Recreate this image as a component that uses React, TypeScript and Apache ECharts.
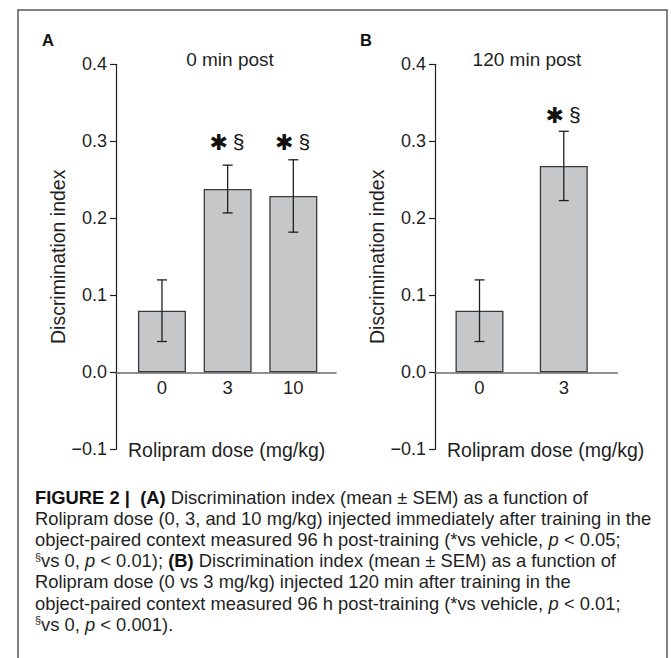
import React, { useEffect, useRef } from "react";
import * as echarts from "echarts";

// ---------- data ----------
const panelLabels = ["A", "B"];
const panelTitles = ["0 min post", "120 min post"];

const dosesA = ["0", "3", "10"];
const meansA = [0.08, 0.238, 0.229];
const semA = [0.04, 0.031, 0.047];
const sigA = ["", "✱§", "✱§"];
const sigLevelA = [0, 0.3, 0.3];

const dosesB = ["0", "3"];
const meansB = [0.08, 0.268];
const semB = [0.04, 0.045];
const sigB = ["", "✱§"];
const sigLevelB = [0, 0.335];

const yMin = -0.1;
const yMax = 0.4;
const yStep = 0.1;
const yAxisName = "Discrimination index";
const xAxisName = "Rolipram dose (mg/kg)";

const captionLines = [
  "{b|FIGURE 2 |}{n|  }{b|(A)}{n| Discrimination index (mean ± SEM) as a function of}",
  "{n|Rolipram dose (0, 3, and 10 mg/kg) injected immediately after training in the}",
  "{n|object-paired context measured 96 h post-training (*vs vehicle, }{i|p}{n| < 0.05;}",
  "{s|§}{n|vs 0, }{i|p}{n| < 0.01); }{b|(B)}{n| Discrimination index (mean ± SEM) as a function of}",
  "{n|Rolipram dose (0 vs 3 mg/kg) injected 120 min after training in the}",
  "{n|object-paired context measured 96 h post-training (*vs vehicle, }{i|p}{n| < 0.01;}",
  "{s|§}{n|vs 0, }{i|p}{n| < 0.001).}",
];
const captionRef = "Rolipram dose (0, 3, and 10 mg/kg) injected immediately after training in the";

// ---------- layout / styles ----------
const FONT = "'Liberation Sans', Arial, Helvetica, sans-serif";
const INK = "#1f1f1f";
const BAR_FILL = "#c6c7c9";
const BAR_EDGE = "#3a3a3a";
const GRID_TOP = 64.3;
const GRID_H = 385;
// shift of the x axis from the grid bottom up to the value 0 of the y scale
const ZERO_OFFSET = -GRID_H * (0 - yMin) / (yMax - yMin);

const fmtY = (v: number) => {
  const r = Math.round(v * 10) / 10;
  return r < 0 ? "\u2212" + Math.abs(r).toFixed(1) : r.toFixed(1);
};

function makeY(gridIndex: number) {
  return {
    type: "value",
    gridIndex,
    min: yMin,
    max: yMax,
    interval: yStep,
    axisLine: { show: true, onZero: false, lineStyle: { color: INK, width: 1.2 } },
    axisTick: { show: true, length: 6, lineStyle: { color: INK, width: 1.2 } },
    axisLabel: { margin: 9, fontSize: 18, color: INK, fontFamily: FONT, formatter: fmtY },
    splitLine: { show: false },
    name: yAxisName,
    nameLocation: "middle",
    nameGap: 44,
    nameTextStyle: { fontSize: 19.5, color: INK, fontFamily: FONT },
  };
}

function makeX(gridIndex: number, cats: string[], min: number, max: number) {
  return {
    type: "value",
    gridIndex,
    min,
    max,
    position: "bottom",
    offset: ZERO_OFFSET,
    axisLine: { show: true, onZero: false, lineStyle: { color: "#6a6a6a", width: 1.5 } },
    axisTick: { show: false },
    splitLine: { show: false },
    axisLabel: {
      customValues: cats.map((_, i) => i),
      formatter: (v: number) => cats[Math.round(v)] ?? "",
      fontSize: 18.5,
      color: INK,
      fontFamily: FONT,
      margin: 6,
    },
  };
}

function barSeries(idx: number, means: number[]) {
  return {
    type: "bar",
    xAxisIndex: idx,
    yAxisIndex: idx,
    data: means.map((m, i) => [i, m]),
    barWidth: 48,
    itemStyle: { color: BAR_FILL, borderColor: BAR_EDGE, borderWidth: 1.3 },
    z: 3,
  };
}

function errSeries(idx: number, means: number[], sems: number[]) {
  return {
    type: "custom",
    xAxisIndex: idx,
    yAxisIndex: idx,
    encode: { x: 0, y: [1, 2] },
    data: means.map((m, i) => [i, m - sems[i], m + sems[i]]),
    z: 4,
    renderItem: (_p: any, api: any) => {
      const x = api.value(0);
      const lo = api.coord([x, api.value(1)]);
      const hi = api.coord([x, api.value(2)]);
      const hw = 5;
      const st = { stroke: INK, lineWidth: 1.3 };
      return {
        type: "group",
        children: [
          { type: "line", shape: { x1: lo[0], y1: lo[1], x2: hi[0], y2: hi[1] }, style: st },
          { type: "line", shape: { x1: hi[0] - hw, y1: hi[1], x2: hi[0] + hw, y2: hi[1] }, style: st },
          { type: "line", shape: { x1: lo[0] - hw, y1: lo[1], x2: lo[0] + hw, y2: lo[1] }, style: st },
        ],
      };
    },
  };
}

function sigSeries(idx: number, sig: string[], levels: number[]) {
  return {
    type: "custom",
    xAxisIndex: idx,
    yAxisIndex: idx,
    encode: { x: 0, y: 1 },
    data: sig.map((s, i) => [i, s ? levels[i] : yMin]),
    z: 5,
    renderItem: (_p: any, api: any) => {
      const i = Math.round(api.value(0));
      const s = sig[i];
      if (!s) return null;
      const p = api.coord([i, api.value(1)]);
      const star = s.slice(0, 1);
      const rest = s.slice(1);
      return {
        type: "group",
        children: [
          {
            type: "text",
            x: p[0] - 9,
            y: p[1] + 1,
            style: {
              text: star,
              fontFamily: "'DejaVu Sans', sans-serif",
              fontSize: 22,
              fill: "#111",
              align: "center",
              verticalAlign: "middle",
            },
          },
          {
            type: "text",
            x: p[0] + 11,
            y: p[1],
            style: {
              text: rest,
              fontFamily: FONT,
              fontSize: 21,
              fill: "#111",
              align: "center",
              verticalAlign: "middle",
            },
          },
        ],
      };
    },
  };
}

export default function App() {
  const ref = useRef<HTMLDivElement>(null);

  useEffect(() => {
    if (!ref.current) return;
    const chart = echarts.init(ref.current, null, { renderer: "svg" });

    // horizontal condensation of the caption font
    let capScale = 0.88;
    try {
      const c = document.createElement("canvas").getContext("2d");
      if (c) {
        c.font = `18.5px ${FONT}`;
        const w = c.measureText(captionRef).width;
        if (w > 0) capScale = 617 / w;
      }
    } catch (e) {}

    const capRich = {
      n: { fontFamily: FONT, fontSize: 18.5, fill: INK },
      b: { fontFamily: FONT, fontSize: 18.5, fontWeight: "bold", fill: "#111" },
      i: { fontFamily: FONT, fontSize: 18.5, fontStyle: "italic", fill: INK },
      s: { fontFamily: FONT, fontSize: 11, fill: INK, verticalAlign: "top" },
    };

    const option: any = {
      animation: false,
      backgroundColor: "#ffffff",
      grid: [
        { left: 116, top: GRID_TOP, width: 220, height: GRID_H },
        { left: 435, top: GRID_TOP, width: 182.3, height: GRID_H },
      ],
      xAxis: [makeX(0, dosesA, -0.7, 2.65), makeX(1, dosesB, -0.528, 1.635)],
      yAxis: [makeY(0), makeY(1)],
      series: [
        barSeries(0, meansA),
        errSeries(0, meansA, semA),
        sigSeries(0, sigA, sigLevelA),
        barSeries(1, meansB),
        errSeries(1, meansB, semB),
        sigSeries(1, sigB, sigLevelB),
      ],
      graphic: [
        {
          type: "rect",
          shape: { x: 18, y: 10, width: 649, height: 670 },
          style: { fill: "none", stroke: "#5a5a5a", lineWidth: 1.5 },
          silent: true,
        },
        {
          type: "text",
          x: 42,
          y: 40,
          style: { text: panelLabels[0], fontFamily: FONT, fontSize: 16.5, fontWeight: "bold", fill: "#111", verticalAlign: "middle" },
        },
        {
          type: "text",
          x: 360,
          y: 40,
          style: { text: panelLabels[1], fontFamily: FONT, fontSize: 16.5, fontWeight: "bold", fill: "#111", verticalAlign: "middle" },
        },
        {
          type: "text",
          x: 230,
          y: 59,
          style: { text: panelTitles[0], fontFamily: FONT, fontSize: 19, fill: INK, align: "center", verticalAlign: "middle" },
        },
        {
          type: "text",
          x: 527,
          y: 59,
          style: { text: panelTitles[1], fontFamily: FONT, fontSize: 19, fill: INK, align: "center", verticalAlign: "middle" },
        },
        {
          type: "text",
          x: 128,
          y: 450,
          style: { text: xAxisName, fontFamily: FONT, fontSize: 19.5, fill: INK, verticalAlign: "middle" },
        },
        {
          type: "text",
          x: 447,
          y: 450,
          style: { text: xAxisName, fontFamily: FONT, fontSize: 19.5, fill: INK, verticalAlign: "middle" },
        },
        ...captionLines.map((t, k) => ({
          type: "text",
          x: 35,
          y: 497 + k * 21.2,
          scaleX: capScale,
          style: { text: t, rich: capRich, fontFamily: FONT, fontSize: 18.5, fill: INK, verticalAlign: "middle" },
        })),
      ],
    };

    chart.setOption(option);
    return () => chart.dispose();
  }, []);

  return (
    <div
      ref={ref}
      style={{ position: "absolute", left: 0, top: 0, width: 671, height: 658, background: "#fff" }}
    />
  );
}
